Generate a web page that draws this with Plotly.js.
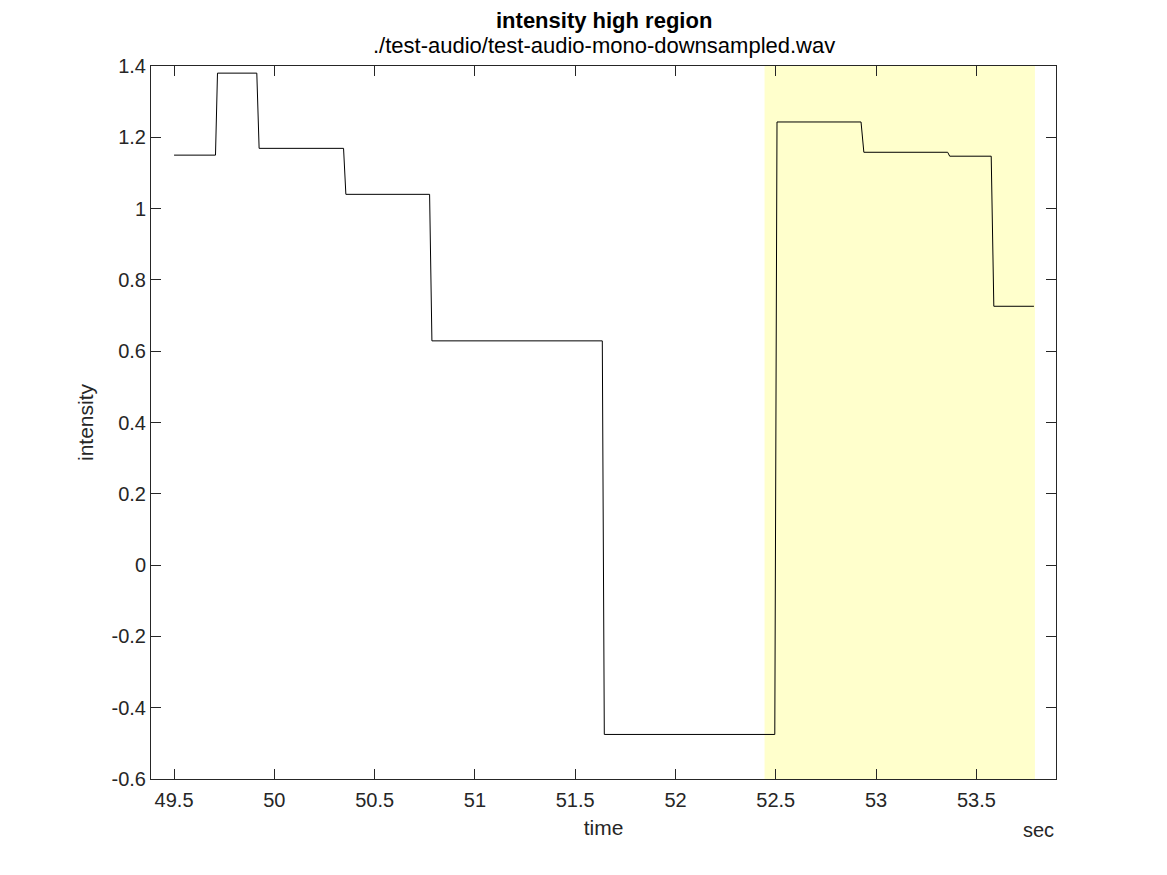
<!DOCTYPE html>
<html>
<head>
<meta charset="utf-8">
<script src="https://cdn.plot.ly/plotly-3.0.1.min.js"></script>
<style>
  html, body { margin: 0; padding: 0; background: white; }
  #chart { width: 1167px; height: 875px; }
</style>
</head>
<body>
<div id="chart"></div>
<script>
// step corners of the intensity curve (sec, intensity)
var timeSec = [49.5, 49.7065, 49.7165, 49.9125, 49.924, 50.345, 50.3565, 50.774, 50.7855,
               51.635, 51.645, 52.495, 52.506, 52.925, 52.939, 53.357, 53.367, 53.574, 53.587, 53.787];
var intensity = [1.15, 1.15, 1.38, 1.38, 1.169, 1.169, 1.04, 1.04, 0.629,
                 0.629, -0.475, -0.475, 1.243, 1.243, 1.158, 1.158, 1.147, 1.147, 0.726, 0.726];

// highlighted "high" region
var regionStart = 52.444;
var regionEnd = 53.792;

var xTickVals = [49.5, 50, 50.5, 51, 51.5, 52, 52.5, 53, 53.5];
var xTickText = ["49.5", "50", "50.5", "51", "51.5", "52", "52.5", "53", "53.5"];
var yTickVals = [-0.6, -0.4, -0.2, 0, 0.2, 0.4, 0.6, 0.8, 1, 1.2, 1.4];
var yTickText = ["-0.6", "-0.4", "-0.2", "0", "0.2", "0.4", "0.6", "0.8", "1", "1.2", "1.4"];

var ink = "#262626";

var trace = {
  x: timeSec,
  y: intensity,
  type: "scatter",
  mode: "lines",
  line: { color: "black", width: 1 },
  hoverinfo: "x+y"
};

var layout = {
  width: 1167, height: 875,
  margin: { l: 151, r: 111, t: 66, b: 96 },
  paper_bgcolor: "white",
  plot_bgcolor: "white",
  showlegend: false,
  font: { family: "Liberation Sans, Arial, sans-serif", color: ink, size: 20 },
  xaxis: {
    range: [49.385, 53.897],
    tickvals: xTickVals, ticktext: xTickText,
    ticks: "inside", ticklen: 10, tickwidth: 1, tickcolor: ink,
    ticklabelstandoff: 3,
    showline: true, linecolor: ink, linewidth: 1, mirror: "ticks",
    showgrid: false, zeroline: false,
    tickfont: { size: 20, color: ink },
    title: { text: "time", font: { size: 21, color: ink }, standoff: 10 }
  },
  yaxis: {
    range: [-0.6, 1.4],
    tickvals: yTickVals, ticktext: yTickText,
    ticks: "inside", ticklen: 10, tickwidth: 1, tickcolor: ink,
    showline: true, linecolor: ink, linewidth: 1, mirror: "ticks",
    showgrid: false, zeroline: false,
    tickfont: { size: 20, color: ink },
    title: { text: "intensity", font: { size: 21, color: ink }, standoff: 12 }
  },
  shapes: [{
    type: "rect", xref: "x", yref: "paper",
    x0: regionStart, x1: regionEnd, y0: 0, y1: 1,
    fillcolor: "#ffffcc", line: { width: 0 }, layer: "below"
  }],
  annotations: [
    { text: "<b>intensity high region</b>", xref: "paper", yref: "paper",
      x: 0.5, y: 1.0645, xanchor: "center", yanchor: "middle", showarrow: false,
      font: { size: 22, color: "black" } },
    { text: "./test-audio/test-audio-mono-downsampled.wav", xref: "paper", yref: "paper",
      x: 0.5, y: 1.0285, xanchor: "center", yanchor: "middle", showarrow: false,
      font: { size: 22, color: "black" } },
    { text: "sec", xref: "paper", yref: "paper",
      x: 1, y: -0.071, xanchor: "right", yanchor: "middle", showarrow: false,
      font: { size: 20, color: ink } }
  ]
};

Plotly.newPlot("chart", [trace], layout, { displayModeBar: false, staticPlot: true });
</script>
</body>
</html>
